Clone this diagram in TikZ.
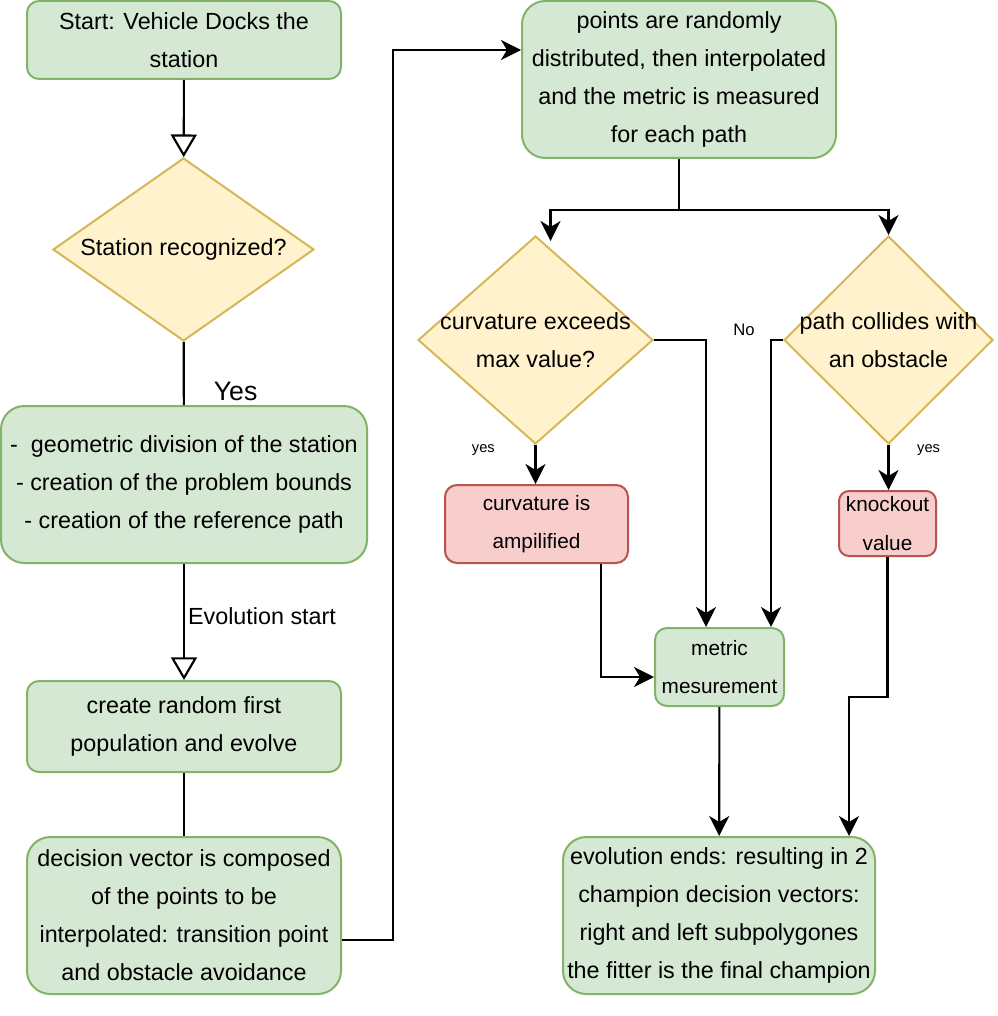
\documentclass[tikz,border=0pt]{standalone}
\usepackage{fontspec}
\setmainfont{Liberation Sans}
\usetikzlibrary{arrows.meta,calc,shapes.geometric}

\tikzset{every picture/.style={line width=1.5pt}}
\tikzset{
  txt/.style={font=\fontsize{17.5}{28.5}\selectfont, align=center, inner sep=0.75pt},
  smalltxt/.style={font=\fontsize{15.6}{29}\selectfont, align=center, inner sep=0.75pt},
  lbl/.style={font=\fontsize{11}{13}\selectfont, inner sep=0.75pt},
  okbox/.style={draw={rgb, 255:red, 130; green, 179; blue, 102 }, fill={rgb, 255:red, 213; green, 232; blue, 212 }, rounded corners=9pt},
  badbox/.style={draw={rgb, 255:red, 184; green, 84; blue, 80 }, fill={rgb, 255:red, 248; green, 206; blue, 204 }, rounded corners=9pt},
  ask/.style={diamond, draw={rgb, 255:red, 214; green, 182; blue, 86 }, fill={rgb, 255:red, 255; green, 242; blue, 204 }, inner sep=0pt},
  arr/.style={-{Stealth[length=15pt,width=15pt,inset=4.5pt]}, line width=1.6pt},
  hollow/.style={-{Triangle[open,length=17pt,width=19.5pt,fill=white]}, line width=1.6pt},
  link/.style={line width=1.6pt}
}

\begin{document}
\begin{tikzpicture}[x=0.75pt,y=0.75pt,yscale=-1,xscale=1]
\useasboundingbox (0,0) rectangle (997,1016);

%Shape: Rounded Rect [start]
\node[okbox, txt, minimum width=235.5pt, minimum height=58.5pt] (start) at (184,40) {Start: Vehicle Docks the\\station};
%Shape: Diamond [recog]
\node[ask, minimum width=195.75pt, minimum height=137.25pt] (recog) at (183.5,249.5) {};
\node[txt] (recogtxt) at (recog) {Station recognized?};
%Shape: Rounded Rect [prep]
\node[okbox, txt, rounded corners=17.5pt, minimum width=274.5pt, minimum height=117.75pt] (prep) at (184,484.5) {-\ \ geometric division of the station\\- creation of the problem bounds\\- creation of the reference path};
%Shape: Rounded Rect [popul]
\node[okbox, txt, minimum width=235.5pt, minimum height=68.25pt] (popul) at (184,726.5) {create random first\\population and evolve};
%Shape: Rounded Rect [decvec]
\node[okbox, txt, rounded corners=17.5pt, minimum width=235.5pt, minimum height=117.75pt] (decvec) at (184,915.5) {decision vector is composed\\of the points to be\\interpolated: transition point\\and obstacle avoidance};
%Shape: Rounded Rect [rand]
\node[okbox, txt, rounded corners=17.5pt, minimum width=235.5pt, minimum height=117.75pt] (rand) at (679,79.5) {points are randomly\\distributed, then interpolated\\and the metric is measured\\for each path};
%Shape: Diamond [curv]
\node[ask, minimum width=176.25pt, minimum height=156pt] (curv) at (535.5,340) {};
\node[txt] (curvtxt) at (curv) {curvature exceeds\\max value?};
%Shape: Diamond [coll]
\node[ask, minimum width=156.75pt, minimum height=156pt] (coll) at (888.5,340) {};
\node[txt] (colltxt) at (coll) {path collides with\\an obstacle};
%Shape: Rounded Rect [amp]
\node[badbox, smalltxt, minimum width=137.25pt, minimum height=58.5pt] (amp) at (536.5,524) {curvature is\\ampilified};
%Shape: Rounded Rect [knock]
\node[badbox, smalltxt, rounded corners=7.5pt, minimum width=72.75pt, minimum height=48.75pt] (knock) at (887.5,523.5) {knockout\\value};
%Shape: Rounded Rect [metric]
\node[okbox, smalltxt, minimum width=96.75pt, minimum height=58.5pt] (metric) at (719.5,667) {metric\\mesurement};
%Shape: Rounded Rect [final]
\node[okbox, txt, rounded corners=17.5pt, minimum width=234pt, minimum height=117.75pt] (final) at (719,915.5) {evolution ends: resulting in 2\\champion decision vectors:\\right and left subpolygones\\the fitter is the final champion};

%Connectors: left column
\draw[hollow] (start) -- (recog);
\draw[link] (recog) -- node[pos=0.785, anchor=west, xshift=21pt, font=\fontsize{20}{24}\selectfont, inner sep=0.75pt] (yes) {Yes} (prep);
\draw[hollow] (prep) -- node[pos=0.45, anchor=west, txt, xshift=1.5pt] (evo) {Evolution start} (popul);
\draw[link] (popul) -- (decvec);

%Connector: up to the right column
\coordinate (lift) at (393,50);
\draw[arr] ($(decvec.east)+(0,24.5)$) -| (lift) -- (lift -| rand.west);

%Connectors: split to the two checks
\coordinate (split) at (679,210);
\draw[arr] (rand.south) -- (split) -| ($(curv.north)+(15,6)$);
\draw[arr] (split) -| (coll.north);

%Connectors: checks
\draw[arr] (curv.east) -| ($(metric.north)+(-13.5,0)$);
\draw[arr] (coll.west) node[anchor=center, xshift=-29.25pt, yshift=7.5pt, font=\fontsize{12.5}{14}\selectfont, inner sep=0.75pt] (no) {No} -| ($(metric.north)+(51.5,0)$);
\draw[arr] (curv.south) node[lbl, anchor=east, xshift=-29pt, yshift=-3.75pt] (yesl) {yes} -- (curv.south |- amp.north);
\draw[arr] (coll.south) node[lbl, anchor=west, xshift=20pt, yshift=-3.75pt] (yesr) {yes} -- (coll.south |- knock.north);

%Connectors: to the end
\draw[arr] ($(amp.south)+(64.5,0)$) |- ($(metric.west)+(0,10)$);
\draw[arr] (metric) -- (final);
\coordinate (kbend) at (849,697);
\draw[arr] (knock.south) |- (kbend) -- (kbend |- final.north);

\end{tikzpicture}
\end{document}
